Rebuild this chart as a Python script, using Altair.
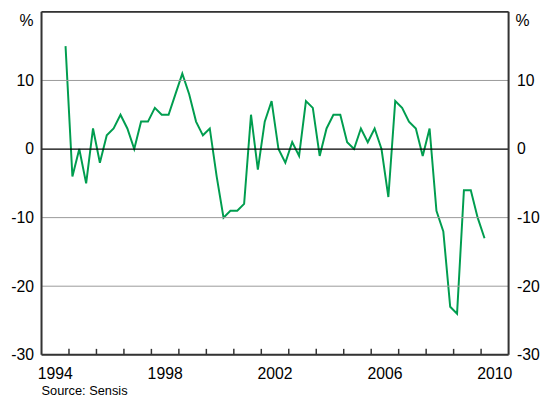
import altair as alt
import pandas as pd

values = [15, -4, 0, -5, 3, -2, 2, 3, 5, 3, 0, 4, 4, 6, 5, 5, 8, 11, 8, 4, 2, 3,
          -4, -10, -9, -9, -8, 5, -3, 4, 7, 0, -2, 1, -1, 7, 6, -1, 3, 5, 5, 1, 0, 3,
          1, 3, 0, -7, 7, 6, 4, 3, -1, 3, -9, -12, -23, -24, -6, -6, -10, -13]
start = 1994.875
times = [start + 0.25 * i for i in range(len(values))]
grid_levels = [10, -10, -20]
zero_level = [0]
x_range = [1994, 2011]
y_range = [-30, 20]
tick_years = list(range(1995, 2011))
label_positions = [1994.5, 1998.5, 2002.5, 2006.5, 2010.5]
label_texts = ["1994", "1998", "2002", "2006", "2010"]
y_ticks = [-30, -20, -10, 0, 10]

W, H = 474, 348
FONT = "Liberation Sans"
FRAME = "#333333"

df = pd.DataFrame({"t": times, "v": values})
xs = alt.Scale(domain=x_range, nice=False, zero=False)
ys = alt.Scale(domain=y_range, nice=False, zero=False)

yl_axis = alt.Axis(values=y_ticks, labelExpr="'' + datum.value", tickSize=0, domain=False,
                   grid=False, labelPadding=8, labelFontSize=16, labelFont=FONT,
                   labelColor="#000", title=None, orient="left")
yr_axis = alt.Axis(values=y_ticks, labelExpr="'' + datum.value", tickSize=0, domain=False,
                   grid=False, labelPadding=8, labelFontSize=16, labelFont=FONT,
                   labelColor="#000", title=None, orient="right")

line = alt.Chart(df).mark_line(color="#009d4f", strokeWidth=2).encode(
    x=alt.X("t:Q", scale=xs, axis=None),
    y=alt.Y("v:Q", scale=ys, axis=yl_axis))
grid = alt.Chart(pd.DataFrame({"g": grid_levels})).mark_rule(color="#999999", strokeWidth=1).encode(
    y=alt.Y("g:Q", scale=ys, axis=yr_axis))
zero = alt.Chart(pd.DataFrame({"z": zero_level})).mark_rule(color="#000000", strokeWidth=1.2).encode(
    y=alt.Y("z:Q", scale=ys, axis=None))
vborders = alt.Chart(pd.DataFrame({"xb": x_range})).mark_rule(color=FRAME, strokeWidth=2).encode(
    x=alt.X("xb:Q", scale=xs, axis=None), y=alt.value(0), y2=alt.value(H))
hborders = alt.Chart(pd.DataFrame({"yb": y_range})).mark_rule(color=FRAME, strokeWidth=2).encode(
    y=alt.Y("yb:Q", scale=ys, axis=None), x=alt.value(0), x2=alt.value(W))
ticks = alt.Chart(pd.DataFrame({"yr": tick_years})).mark_rule(color=FRAME, strokeWidth=1.5).encode(
    x=alt.X("yr:Q", scale=xs, axis=None), y=alt.value(H), y2=alt.value(H - 6))
xlabels = alt.Chart(pd.DataFrame({"p": label_positions, "s": label_texts})).mark_text(
    align="center", baseline="middle", fontSize=16, font=FONT, color="#000").encode(
    x=alt.X("p:Q", scale=xs, axis=None), y=alt.value(H + 20), text="s:N")
pct_l = alt.Chart(pd.DataFrame({"s": ["%"]})).mark_text(
    align="right", baseline="middle", fontSize=16, font=FONT, color="#000").encode(
    text="s:N", x=alt.value(-8), y=alt.value(9))
pct_r = alt.Chart(pd.DataFrame({"s": ["%"]})).mark_text(
    align="left", baseline="middle", fontSize=16, font=FONT, color="#000").encode(
    text="s:N", x=alt.value(W + 7), y=alt.value(9))
src = alt.Chart(pd.DataFrame({"s": ["Source: Sensis"]})).mark_text(
    align="left", baseline="alphabetic", fontSize=13, font=FONT, color="#000").encode(
    text="s:N", x=alt.value(0), y=alt.value(389))

chart = alt.layer(line, grid, zero, vborders, hborders, ticks, xlabels, pct_l, pct_r, src).resolve_axis(
    y="independent").properties(
    width=W, height=H,
    autosize=alt.AutoSizeParams(type="none"),
    padding={"left": 34, "top": 1, "right": 39, "bottom": 46},
).configure(background="white")

chart.save("out.html", embed_options={"renderer": "svg", "actions": False})
